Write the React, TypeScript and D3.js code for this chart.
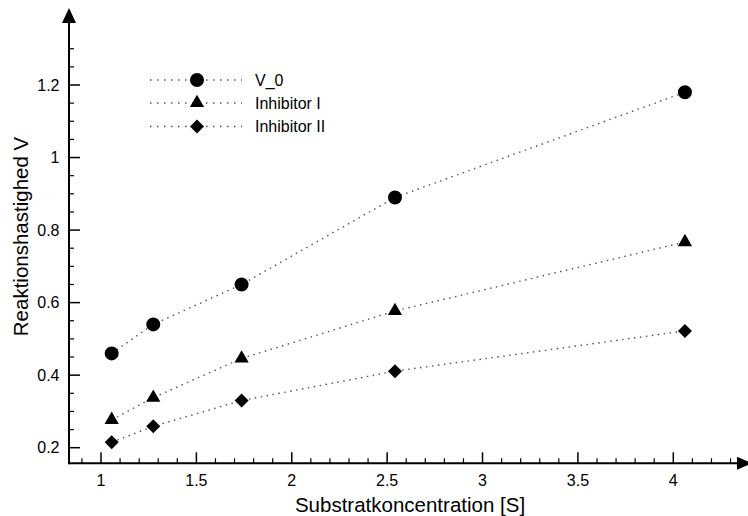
import React from "react";
import * as d3 from "d3";

const xValues = [1.056, 1.274, 1.737, 2.541, 4.061];
const seriesNames = ["V_0", "Inhibitor I", "Inhibitor II"];
const v0 = [0.46, 0.54, 0.65, 0.89, 1.18];
const inhibitorI = [0.277, 0.338, 0.446, 0.577, 0.767];
const inhibitorII = [0.215, 0.259, 0.33, 0.411, 0.522];
const xMajorTicks = [1, 1.5, 2, 2.5, 3, 3.5, 4];
const yMajorTicks = [0.2, 0.4, 0.6, 0.8, 1, 1.2];

const W = 748;
const H = 516;
const FONT = "'Liberation Sans', Arial, Helvetica, sans-serif";

export default function App() {
  const x = d3.scaleLinear().domain([1, 4]).range([101, 673.3]);
  const y = d3.scaleLinear().domain([0.2, 1.2]).range([447.7, 85]);
  const axisX = 69;
  const axisY = 463.3;

  const series = [v0, inhibitorI, inhibitorII];
  const symbols = [d3.symbolCircle, d3.symbolTriangle, d3.symbolSquare];
  const sizes = [154, 88, 98];
  const rotations = [0, 0, 45];

  const line = d3
    .line<[number, number]>()
    .x((d) => x(d[0]))
    .y((d) => y(d[1]));

  const xMinor = d3.range(9, 44).map((v) => v / 10).filter((v) => !xMajorTicks.some((m) => Math.abs(m - v) < 1e-6));
  const yMinor = d3.range(4, 27).map((v) => v / 20).filter((v) => !yMajorTicks.some((m) => Math.abs(m - v) < 1e-6));

  const marker = (i: number, cx: number, cy: number, key: string) => (
    <path
      key={key}
      d={d3.symbol().type(symbols[i]).size(sizes[i])() as string}
      transform={`translate(${cx},${cy}) rotate(${rotations[i]})`}
      fill="#000"
    />
  );

  const legendRows = [80, 103, 126.5];

  return (
    <svg
      width={W}
      height={H}
      style={{ position: "absolute", left: 0, top: 0, background: "#fff" }}
      fontFamily={FONT}
    >
      {/* data lines */}
      {series.map((s, i) => (
        <path
          key={"l" + i}
          d={line(s.map((v, j) => [xValues[j], v] as [number, number])) as string}
          fill="none"
          stroke="#555"
          strokeWidth={1.4}
          strokeDasharray="1.5,4.5"
        />
      ))}
      {series.map((s, i) => s.map((v, j) => marker(i, x(xValues[j]), y(v), `m${i}-${j}`)))}

      {/* axes */}
      <line x1={axisX} x2={740} y1={axisY} y2={axisY} stroke="#000" strokeWidth={2} />
      <path d={`M737,${axisY - 6.5} L752,${axisY} L737,${axisY + 6.5} Z`} fill="#000" />
      <line x1={axisX} x2={axisX} y1={axisY + 1} y2={18} stroke="#000" strokeWidth={2} />
      <path d={`M${axisX - 7},23 L${axisX},8 L${axisX + 7},23 Z`} fill="#000" />

      {/* x ticks */}
      {xMajorTicks.map((t) => (
        <g key={"xt" + t}>
          <line x1={x(t)} x2={x(t)} y1={axisY} y2={axisY - 11} stroke="#000" strokeWidth={1.5} />
          <text x={x(t)} y={485.5} fontSize={16} textAnchor="middle" fill="#000">
            {String(t)}
          </text>
        </g>
      ))}
      {xMinor.map((t) => (
        <line key={"xm" + t} x1={x(t)} x2={x(t)} y1={axisY} y2={axisY - 5} stroke="#000" strokeWidth={1.2} />
      ))}

      {/* y ticks */}
      {yMajorTicks.map((t) => (
        <g key={"yt" + t}>
          <line x1={axisX} x2={axisX + 11} y1={y(t)} y2={y(t)} stroke="#000" strokeWidth={1.5} />
          <text x={59.5} y={y(t) + 5.5} fontSize={16} textAnchor="end" fill="#000">
            {String(t)}
          </text>
        </g>
      ))}
      {yMinor.map((t) => (
        <line key={"ym" + t} x1={axisX} x2={axisX + 5} y1={y(t)} y2={y(t)} stroke="#000" strokeWidth={1.2} />
      ))}

      {/* axis titles */}
      <text x={410} y={512} fontSize={20.5} textAnchor="middle" fill="#000">
        Substratkoncentration [S]
      </text>
      <text
        transform={`translate(27.5,236.5) rotate(-90)`}
        fontSize={20.5}
        textAnchor="middle"
        fill="#000"
      >
        Reaktionshastighed V
      </text>

      {/* legend */}
      {seriesNames.map((name, i) => (
        <g key={"lg" + i}>
          <line
            x1={150}
            x2={242}
            y1={legendRows[i]}
            y2={legendRows[i]}
            stroke="#555"
            strokeWidth={1.4}
            strokeDasharray="1.5,5.5"
          />
          {marker(i, 197, legendRows[i], "lgm" + i)}
          <text x={255} y={legendRows[i] + 5.5} fontSize={16} fill="#000">
            {name}
          </text>
        </g>
      ))}
    </svg>
  );
}
